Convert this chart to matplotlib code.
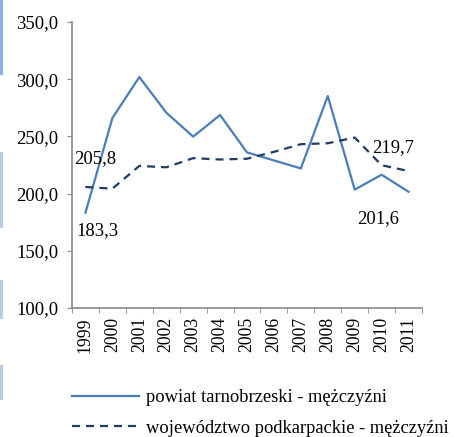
import matplotlib.pyplot as plt
from matplotlib.patches import Rectangle

plt.rcParams['font.family'] = ['Liberation Serif', 'DejaVu Serif']

lata = ['1999', '2000', '2001', '2002', '2003', '2004', '2005',
        '2006', '2007', '2008', '2009', '2010', '2011']
powiat = [183.3, 266.0, 301.9, 270.8, 249.8, 268.7, 236.0,
          229.0, 222.0, 285.3, 203.5, 216.5, 201.6]
wojewodztwo = [205.8, 204.3, 224.2, 223.0, 231.0, 229.8, 230.5,
               236.5, 243.2, 244.0, 249.0, 224.8, 219.7]

fig = plt.figure(figsize=(4.54, 4.37), dpi=100)
ax = fig.add_axes([72/454, 1 - 308/437, 350/454, 286/437])

x = list(range(len(lata)))
ax.plot(x, powiat, color='#4a7ebb', lw=1.6, label='powiat tarnobrzeski - mężczyźni')
ax.plot(x, wojewodztwo, color='#1f3c64', lw=1.6, dashes=(3.6, 2.7),
        label='województwo podkarpackie - mężczyźni')

ax.set_xlim(-0.5, len(lata) - 0.5)
ax.set_ylim(100, 350)


def fmt(v):
    return f'{v:.1f}'.replace('.', ',')


ax.set_yticks([100, 150, 200, 250, 300, 350])
ax.set_yticklabels([fmt(v) for v in range(100, 351, 50)])
ax.set_xticks(x)
ax.set_xticklabels(lata, rotation=90)
ax.set_xticks([i - 0.5 for i in range(len(lata) + 1)], minor=True)
ax.tick_params(axis='x', which='major', length=0, labelsize=12.7, pad=6.5)
ax.tick_params(axis='x', which='minor', length=3.6, color='#888888', direction='out')
ax.tick_params(axis='y', length=3.6, color='#888888', labelsize=13.4, pad=6.5)

for s in ['top', 'right']:
    ax.spines[s].set_visible(False)
for s in ['left', 'bottom']:
    ax.spines[s].set_color('#888888')
    ax.spines[s].set_linewidth(1.2)

# etykiety wartości dla pierwszego i ostatniego roku
etykiety = [
    (0, wojewodztwo[0], (6.8, 17.3)),
    (0, powiat[0], (8.6, -16.0)),
    (12, wojewodztwo[-1], (-10.8, 13.7)),
    (12, powiat[-1], (-22.0, -22.3)),
]
for xi, v, off in etykiety:
    ax.annotate(fmt(v), (xi, v), xytext=off, textcoords='offset points',
                ha='center', va='baseline', fontsize=13.4)

fs_leg = 13.3
pad_px = 0.4 * fs_leg * 100 / 72
fig.legend(loc='center left', bbox_to_anchor=((72 - pad_px) / 454, 1 - 413/437),
           frameon=False, fontsize=fs_leg, handlelength=3.6, handletextpad=0.43,
           labelspacing=0.73, borderaxespad=0)

# paski na lewej krawędzi
for y0, y1, c in [(0, 75, '#8db3e2'), (152, 228, '#b8cce4'),
                  (280, 319, '#b8cce4'), (365, 400, '#b8cce4')]:
    fig.patches.append(Rectangle((0, 1 - y1/437), 2.5/454, (y1 - y0)/437,
                                 transform=fig.transFigure, color=c, lw=0))

fig.savefig('out.png', dpi=100)
